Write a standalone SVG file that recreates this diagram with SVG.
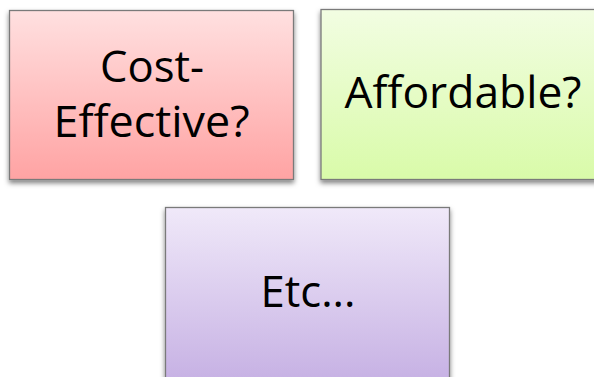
<svg xmlns="http://www.w3.org/2000/svg" width="594" height="377" viewBox="0 0 594 377">
<style>
.box{stroke:#7a7a7a;stroke-width:1.3;filter:url(#sh)}
.t{font-family:"Open Sans","Noto Sans","Liberation Sans",sans-serif;font-size:44px;fill:#000;text-anchor:middle}
</style>
<defs>
<filter id="sh" x="-5%" y="-5%" width="110%" height="115%"><feDropShadow dx="0" dy="3" stdDeviation="2.5" flood-color="#000" flood-opacity="0.5"/></filter>
<linearGradient id="r" x1="0" y1="0" x2="0" y2="1"><stop offset="0" stop-color="#ffe0e0"/><stop offset="1" stop-color="#ffa3a3"/></linearGradient>
<linearGradient id="g" x1="0" y1="0" x2="0" y2="1"><stop offset="0" stop-color="#f2fde2"/><stop offset="1" stop-color="#d9fba9"/></linearGradient>
<linearGradient id="p" x1="0" y1="0" x2="0" y2="1"><stop offset="0" stop-color="#f0e9f9"/><stop offset="1" stop-color="#c5afe3"/></linearGradient>
</defs>
<g id="connectors"></g>
<g id="cost-effective">
<rect class="box" x="9.5" y="10.5" width="284" height="169" fill="url(#r)"/>
<text class="t" x="152" y="82" textLength="104" lengthAdjust="spacingAndGlyphs">Cost-</text>
<text class="t" x="151.5" y="137" textLength="196" lengthAdjust="spacingAndGlyphs">Effective?</text>
</g>
<g id="affordable">
<rect class="box" x="321" y="9.5" width="284" height="170" fill="url(#g)"/>
<text class="t" x="463" y="108" textLength="237" lengthAdjust="spacingAndGlyphs">Affordable?</text>
</g>
<g id="etc">
<rect class="box" x="165.5" y="207.5" width="284" height="180" fill="url(#p)"/>
<text class="t" x="308" y="307" textLength="95" lengthAdjust="spacingAndGlyphs">Etc...</text>
</g>
</svg>
